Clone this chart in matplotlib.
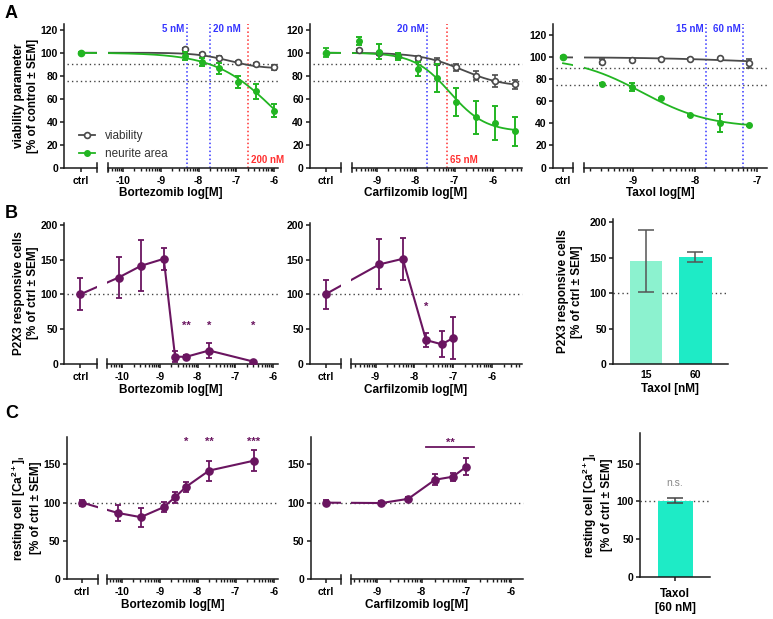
import numpy as np
import matplotlib
matplotlib.use('Agg')
import matplotlib.pyplot as plt
from matplotlib.lines import Line2D
from matplotlib.transforms import blended_transform_factory
from matplotlib.ticker import FixedLocator, FuncFormatter

plt.rcParams['font.family'] = ['Liberation Sans', 'DejaVu Sans']
plt.rcParams['font.weight'] = 'bold'
plt.rcParams['axes.unicode_minus'] = False
plt.rcParams['mathtext.default'] = 'regular'

W, H = 773, 619
fig = plt.figure(figsize=(W / 100, H / 100), dpi=100)

# ---------------- DATA ----------------
# Panel A: Bortezomib
bz_x = [-8.36, -7.92, -7.45, -6.97, -6.49, -6.0]
bz_via_y = [102.8, 98.7, 95.8, 92.0, 89.8, 87.2]
bz_via_e = [1.0, 1.0, 1.5, 1.0, 1.0, 2.5]
bz_neu_y = [97.0, 91.5, 86.3, 74.5, 66.5, 49.4]
bz_neu_e = [3.5, 3.5, 4.5, 5.5, 6.5, 5.5]
bz_via_fit = [100, 86, -7.2, 1.0]      # top, bottom, logIC50, hill
bz_neu_fit = [100, 0, -5.98, 0.55]
bz_ref_nM = [5, 20, 200]
bz_ref_lbl = ['5 nM', '20 nM', '200 nM']

# Panel A: Carfilzomib
cz_x = [-9.45, -8.95, -8.45, -7.95, -7.45, -6.95, -6.45, -5.95, -5.45]
cz_via_y = [102, 99.5, 97, 95, 92, 87.2, 80, 75.3, 72.5]
cz_via_e = [1, 1.5, 1.5, 2, 3, 3, 4, 5, 4]
cz_neu_y = [110, 101, 97, 86, 78, 57, 43.6, 38.7, 31.4]
cz_neu_e = [3.5, 6.5, 3, 6, 12, 12, 14.5, 15, 13]
cz_ctrl_neu_e = 4
cz_via_fit = [100, 70, -6.8, 0.8]
cz_neu_fit = [100, 31, -7.12, 0.95]
cz_ref_nM = [20, 65]
cz_ref_lbl = ['20 nM', '65 nM']

# Panel A: Taxol
tx_x = [-9.5, -9.02, -8.55, -8.08, -7.6, -7.13]
tx_via_y = [96, 97.6, 98.5, 98.5, 99, 94.5]
tx_via_e = [2, 0.5, 0.5, 0.5, 0.5, 4]
tx_neu_y = [75.8, 72.7, 62.7, 47.6, 40.6, 38.2]
tx_neu_e = [0.5, 3.5, 0.5, 0.5, 8, 0.5]
tx_via_fit = [100, 92, -7.0, 0.5]
tx_neu_fit = [100, 36, -8.85, 0.8]
tx_ref_nM = [15, 60]
tx_ref_lbl = ['15 nM', '60 nM']

ctrl_value = 100
thresholds_A = [90, 75]

# Panel B: P2X3 responsive cells
bzB_x = [-10.1, -9.5, -8.9, -8.6, -8.3, -7.7, -6.52]
bzB_y = [124, 141, 151, 10, 10, 19, 3]
bzB_e = [30, 36.5, 16, 8, 2, 10.5, 1.5]
bzB_ctrl_e = 23
bzB_stars = ['', '', '', '', '**', '*', '*']

cfB_x = [-8.9, -8.3, -7.7, -7.3, -7.0]
cfB_y = [143, 151, 34, 28, 37]
cfB_e = [36, 30.5, 10, 18.5, 30]
cfB_ctrl_e = 21
cfB_stars = ['', '', '*', '', '']

txB_cats = ['15', '60']
txB_y = [145, 151]
txB_e = [44, 7]

# Panel C: resting [Ca2+]i
bzC_x = [-10.1, -9.5, -8.9, -8.6, -8.3, -7.7, -6.52]
bzC_y = [86.5, 81, 94, 107, 121, 142, 155]
bzC_e = [10.5, 12.3, 6.7, 7.3, 6.5, 13, 14]
bzC_ctrl_e = 4
bzC_stars = ['', '', '', '', '*', '**', '***']

cfC_x = [-8.9, -8.3, -7.7, -7.3, -7.0]
cfC_y = [99.5, 105, 130, 134, 147]
cfC_e = [3, 2, 7, 5, 11]
cfC_ctrl_e = 3
cfC_sig_range = [-7.9, -6.83]
cfC_sig_label = '**'

txC_cat = ['Taxol\n[60 nM]']
txC_y = [101]
txC_e = [3]

# ---------------- STYLE ----------------
GREEN = '#22b522'
VIA = '#4a4a4a'
PURPLE = '#6a1560'
BLUE = '#3535ff'
RED = '#ff3030'
DOT = '#444444'
AXC = '#1a1a1a'
TICK_FS = 7.5
LAB_FS = 8.5


def logistic(x, p):
    top, bottom, logec, hill = p
    return bottom + (top - bottom) / (1 + 10 ** (hill * (np.asarray(x) - logec)))


def style_axis(ax):
    for s in ['top', 'right']:
        ax.spines[s].set_visible(False)
    for s in ['left', 'bottom']:
        ax.spines[s].set_linewidth(1.1)
        ax.spines[s].set_color(AXC)
    ax.tick_params(width=1.1, length=3, color=AXC, labelsize=TICK_FS, pad=1.5)
    ax.patch.set_alpha(0)


def broken_axes(yax, cend, mstart, mend, top, bot, ref_px, ref_val, ppd, ylim, yticks):
    b = 1 - bot / H
    h = (bot - top) / H
    axc = fig.add_axes([yax / W, b, (cend - yax) / W, h])
    axm = fig.add_axes([mstart / W, b, (mend - mstart) / W, h], sharey=axc)
    xl = (ref_val + (mstart - ref_px) / ppd, ref_val + (mend - ref_px) / ppd)
    cl = (xl[0] - (mstart - yax) / ppd, xl[0] - (mstart - cend) / ppd)
    axc.set_xlim(cl)
    axm.set_xlim(xl)
    axc.set_ylim(ylim)
    for ax in (axc, axm):
        style_axis(ax)
    axm.spines['left'].set_visible(False)
    axc.set_yticks(yticks)
    axm.tick_params(axis='y', left=False, labelleft=False)
    ctrl_x = (cl[0] + cl[1]) / 2
    axc.set_xticks([ctrl_x])
    axc.set_xticklabels(['ctrl'])
    majors = [v for v in range(int(np.floor(xl[0])), int(np.ceil(xl[1])) + 1) if xl[0] <= v <= xl[1]]
    minors = []
    for n in range(int(np.floor(xl[0])) - 1, int(np.ceil(xl[1])) + 1):
        for k in range(2, 10):
            v = n + np.log10(k)
            if xl[0] < v < xl[1]:
                minors.append(v)
    axm.xaxis.set_major_locator(FixedLocator(majors))
    axm.xaxis.set_major_formatter(FuncFormatter(lambda v, p: f"{v:.0f}"))
    axm.xaxis.set_minor_locator(FixedLocator(minors))
    axm.tick_params(axis='x', which='minor', length=2, width=1.0, color=AXC)
    axc.tick_params(axis='x', pad=3)
    axm.tick_params(axis='x', which='major', pad=3)
    hp = bot - top
    cap = 4.5 / hp
    axc.add_line(Line2D([1, 1], [-cap, cap], transform=axc.transAxes, clip_on=False, color=AXC, lw=1.1))
    axm.add_line(Line2D([0, 0], [-cap, cap], transform=axm.transAxes, clip_on=False, color=AXC, lw=1.1))
    return axc, axm, ctrl_x, (yax, mend)


def span_hline(axc, span, y):
    tr = blended_transform_factory(fig.transFigure, axc.transData)
    axc.add_line(Line2D([span[0] / W + 0.004, span[1] / W], [y, y], transform=tr, clip_on=False,
                        color=DOT, lw=1.0, ls=(0, (1, 2.2)), zorder=1))


def ylabel(x_px, top, bot, text):
    fig.text(x_px / W, 1 - (top + bot) / 2 / H, text, rotation=90, ha='center', va='center',
             fontsize=LAB_FS, multialignment='center', linespacing=1.15)


def xlabel(span, y_px, text):
    fig.text((span[0] + span[1]) / 2 / W, 1 - y_px / H, text, ha='center', va='center', fontsize=LAB_FS)


def panel_A(axc, axm, ctrl_x, span, xs, vy, ve, ny, ne, vfit, nfit, ctrl_ne, refs, lbls, colors, places):
    for t in thresholds_A:
        span_hline(axc, span, t)
    xfit = np.linspace(ctrl_x, xs[-1], 400)
    for ax in (axc, axm):
        ax.plot(xfit, logistic(xfit, vfit), color=VIA, lw=1.3, zorder=3)
        ax.plot(xfit, logistic(xfit, nfit), color=GREEN, lw=1.3, zorder=4)
    axc.errorbar([ctrl_x], [ctrl_value], yerr=[ctrl_ne], fmt='o', color=GREEN, ms=4.5,
                 capsize=2, elinewidth=1.3, capthick=1.3, zorder=6)
    axm.errorbar(xs, vy, yerr=ve, fmt='o', mfc='white', mec=VIA, ecolor=VIA, ms=4.2, mew=1.2,
                 capsize=2, elinewidth=1.1, capthick=1.1, zorder=5)
    axm.errorbar(xs, ny, yerr=ne, fmt='o', color=GREEN, ms=4, capsize=2,
                 elinewidth=1.4, capthick=1.4, zorder=6)
    for c, lb, col, pl in zip(refs, lbls, colors, places):
        lx = np.log10(c * 1e-9)
        axm.axvline(lx, color=col, ls=(0, (1, 1.6)), lw=1.1, zorder=2)
        yfrac = 0.965 if pl[0] == 't' else 0.05
        if pl[1] == 'l':
            axm.annotate(lb, xy=(lx, yfrac), xycoords=('data', 'axes fraction'), xytext=(-2, 0),
                         textcoords='offset points', ha='right', va='center', fontsize=7, color=col)
        else:
            axm.annotate(lb, xy=(lx, yfrac), xycoords=('data', 'axes fraction'), xytext=(2, 0),
                         textcoords='offset points', ha='left', va='center', fontsize=7, color=col)


def panel_line(axc, axm, ctrl_x, span, xs, ys, es, ctrl_e, stars=None, star_y=None):
    span_hline(axc, span, 100)
    allx = [ctrl_x] + list(xs)
    ally = [ctrl_value] + list(ys)
    for ax in (axc, axm):
        ax.plot(allx, ally, color=PURPLE, lw=1.5, zorder=3)
    kw = dict(fmt='o', color=PURPLE, ms=5.2, capsize=2.5, elinewidth=1.3, capthick=1.3, zorder=4)
    axc.errorbar([ctrl_x], [ctrl_value], yerr=[ctrl_e], **kw)
    axm.errorbar(xs, ys, yerr=es, **kw)
    if stars:
        for x, s in zip(xs, stars):
            if s:
                axm.text(x, star_y, s, ha='center', va='center', fontsize=8, color=PURPLE)


# ---------------- PANEL A ----------------
yt_A = [0, 20, 40, 60, 80, 100, 120]
axc, axm, cx, span = broken_axes(64.3, 97, 107.7, 278, 24, 167.5, 123, -10, 37.8, (0, 125), yt_A)
panel_A(axc, axm, cx, span, bz_x, bz_via_y, bz_via_e, bz_neu_y, bz_neu_e, bz_via_fit, bz_neu_fit, 1.0,
        bz_ref_nM, bz_ref_lbl, [BLUE, BLUE, RED], ['tl', 'tr', 'br'])
ylabel(26, 24, 167.5, 'viability parameter\n[% of control ± SEM]')
xlabel(span, 193, 'Bortezomib log[M]')
h_via = Line2D([], [], color=VIA, marker='o', mfc='white', mec=VIA, ms=4.2, mew=1.2, lw=1.3)
h_neu = Line2D([], [], color=GREEN, marker='o', ms=4, lw=1.3)
fig.legend([h_via, h_neu], ['viability', 'neurite area'], loc='center left',
           bbox_to_anchor=(68 / W, 1 - 145 / H), frameon=False, handlelength=1.4,
           handletextpad=0.8, labelspacing=0.55, prop={'weight': 'normal', 'size': 8.5},
           labelcolor='#333333')

axc, axm, cx, span = broken_axes(310, 341, 351.7, 522, 24, 167.5, 376.7, -9, 38.9, (0, 125), yt_A)
panel_A(axc, axm, cx, span, cz_x, cz_via_y, cz_via_e, cz_neu_y, cz_neu_e, cz_via_fit, cz_neu_fit,
        cz_ctrl_neu_e, cz_ref_nM, cz_ref_lbl, [BLUE, RED], ['tl', 'br'])
xlabel(span, 193, 'Carfilzomib log[M]')

axc, axm, cx, span = broken_axes(553, 573, 584, 767, 24, 167.5, 633, -9, 62, (0, 130), yt_A)
panel_A(axc, axm, cx, span, tx_x, tx_via_y, tx_via_e, tx_neu_y, tx_neu_e, tx_via_fit, tx_neu_fit, 1.0,
        tx_ref_nM, tx_ref_lbl, [BLUE, BLUE], ['tl', 'tl'])
xlabel(span, 193, 'Taxol log[M]')

# ---------------- PANEL B ----------------
yt_B = [0, 50, 100, 150, 200]
axc, axm, cx, span = broken_axes(64.3, 96.7, 107.3, 278, 222.7, 363.7, 122.3, -10, 37.7, (0, 203), yt_B)
panel_line(axc, axm, cx, span, bzB_x, bzB_y, bzB_e, bzB_ctrl_e, bzB_stars, 55)
ylabel(26, 222.7, 363.7, 'P2X3 responsive cells\n[% of ctrl ± SEM]')
xlabel(span, 390, 'Bortezomib log[M]')

axc, axm, cx, span = broken_axes(310, 341, 351, 522, 222.7, 363.7, 375.5, -9, 38.9, (0, 203), yt_B)
panel_line(axc, axm, cx, span, cfB_x, cfB_y, cfB_e, cfB_ctrl_e, cfB_stars, 82)
xlabel(span, 390, 'Carfilzomib log[M]')

axb = fig.add_axes([613 / W, 1 - 364 / H, (728 - 613) / W, (364 - 219) / H])
style_axis(axb)
axb.set_xlim(-0.667, 1.657)
axb.set_ylim(0, 204.7)
axb.set_yticks(yt_B)
axb.axhline(100, color=DOT, lw=1.0, ls=(0, (1, 2.2)), zorder=0.5)
xb = np.arange(len(txB_cats))
axb.bar(xb, txB_y, width=0.66, color=['#8cf2cf', '#1eebc6'], zorder=2)
axb.errorbar(xb, txB_y, yerr=txB_e, fmt='none', ecolor='#555555', capsize=6, elinewidth=1.1,
             capthick=1.1, zorder=3)
axb.set_xticks(xb)
axb.set_xticklabels(txB_cats)
axb.tick_params(axis='x', length=0, pad=4)
ylabel(570, 219, 364, 'P2X3 responsive cells\n[% of ctrl ± SEM]')
fig.text(670 / W, 1 - 389 / H, 'Taxol [nM]', ha='center', va='center', fontsize=LAB_FS)

# ---------------- PANEL C ----------------
yt_C = [0, 50, 100, 150]
axc, axm, cx, span = broken_axes(66.7, 97.7, 107.3, 278, 437, 579, 121.7, -10, 38.0, (0, 186), yt_C)
panel_line(axc, axm, cx, span, bzC_x, bzC_y, bzC_e, bzC_ctrl_e, bzC_stars, 179.5)
ylabel(26, 437, 579, 'resting cell [Ca$^{2+}$]$_i$\n[% of ctrl ± SEM]')
xlabel(span, 605, 'Bortezomib log[M]')

axc, axm, cx, span = broken_axes(310.7, 340.7, 350.7, 523, 437, 579, 377, -9, 44.6, (0, 186), yt_C)
panel_line(axc, axm, cx, span, cfC_x, cfC_y, cfC_e, cfC_ctrl_e)
axm.plot(cfC_sig_range, [172.5, 172.5], color=PURPLE, lw=1.3, clip_on=False)
axm.text(np.mean(cfC_sig_range), 178.5, cfC_sig_label, ha='center', va='center', fontsize=8, color=PURPLE)
xlabel(span, 605, 'Carfilzomib log[M]')

axr = fig.add_axes([640 / W, 1 - 577 / H, 70 / W, (577 - 433) / H])
style_axis(axr)
axr.set_xlim(-0.5, 0.5)
axr.set_ylim(0, 190.6)
axr.set_yticks(yt_C)
axr.axhline(100, color=DOT, lw=1.0, ls=(0, (1, 2.2)), zorder=0.5)
axr.bar([0], txC_y, width=0.5, color='#1eebc6', zorder=2)
axr.errorbar([0], txC_y, yerr=txC_e, fmt='none', ecolor='#444444', capsize=6, elinewidth=1.1,
             capthick=1.1, zorder=3)
axr.text(0, 124, 'n.s.', ha='center', va='center', fontsize=7.5, color='#888888', fontweight='normal')
axr.set_xticks([0])
axr.set_xticklabels(txC_cat, fontsize=LAB_FS, linespacing=1.2)
axr.tick_params(axis='x', pad=5)
ylabel(597, 433, 577, 'resting cell [Ca$^{2+}$]$_i$\n[% of ctrl ± SEM]')

# Panel letters
for lbl, y in [('A', 14), ('B', 213), ('C', 413)]:
    fig.text(5 / W, 1 - y / H, lbl, fontsize=13, fontweight='bold', ha='left', va='center')

fig.savefig('out.png', dpi=100)
